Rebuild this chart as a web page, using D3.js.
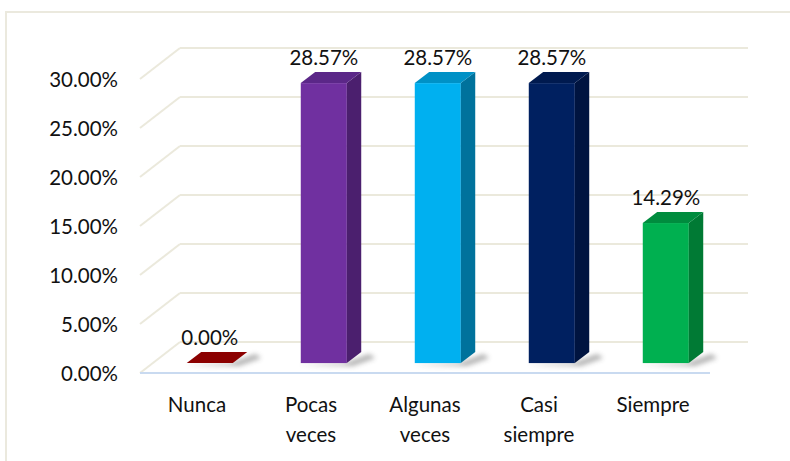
<!DOCTYPE html>
<html>
<head>
<meta charset="utf-8">
<script src="https://cdn.jsdelivr.net/npm/d3@7"></script>
<style>
  html, body { margin: 0; padding: 0; background: #ffffff; }
  svg { display: block; }
  text { font-family: Lato, "Open Sans", sans-serif; fill: #111; }
</style>
</head>
<body>
<svg id="chart" width="790" height="461"></svg>
<script>
// ---- data ----
const categories = ["Nunca", "Pocas veces", "Algunas veces", "Casi siempre", "Siempre"];
const categoryLines = [["Nunca"], ["Pocas", "veces"], ["Algunas", "veces"], ["Casi", "siempre"], ["Siempre"]];
const values = [0.0, 0.2857, 0.2857, 0.2857, 0.1429];
const valueLabels = ["0.00%", "28.57%", "28.57%", "28.57%", "14.29%"];
const tickValues = [0, 0.05, 0.10, 0.15, 0.20, 0.25, 0.30];
const frontColors = ["#a00000", "#7030a0", "#00b0f0", "#002060", "#00b050"];
const sideColors  = ["#6e0000", "#4b1f6e", "#00729c", "#001440", "#007a34"];
const topColors   = ["#8b0000", "#5b2788", "#0091c6", "#001a4f", "#008c3e"];

// ---- layout ----
const svg = d3.select("#chart");
const plotLeft = 140, plotRight = 710, y0 = 373, yTop = 79;
const depthX = 40, depthY = -31;           // full depth of the 3D box
const barF0 = 0.32, barF1 = 0.68;          // bar position inside the depth

const x = d3.scaleBand().domain(categories).range([plotLeft, plotRight])
  .paddingInner(0.596).paddingOuter(0.298);
const y = d3.scaleLinear().domain([0, 0.30]).range([y0, yTop]);

// outer frame
svg.append("path")
  .attr("d", "M6,461 L6,12 L790,12")
  .attr("fill", "none").attr("stroke", "#ebe9de").attr("stroke-width", 2);

// shadow filter
const defs = svg.append("defs");
defs.append("filter").attr("id", "blur").attr("x", "-50%").attr("y", "-50%")
  .attr("width", "200%").attr("height", "200%")
  .append("feGaussianBlur").attr("stdDeviation", 2.5);

// gridlines (left wall diagonals + back wall horizontals)
const grid = svg.append("g");
tickValues.forEach(t => {
  const yf = y(t);
  grid.append("line")
    .attr("x1", plotLeft).attr("y1", yf)
    .attr("x2", plotLeft + depthX).attr("y2", yf + depthY)
    .attr("stroke", "#ebe9dc").attr("stroke-width", 2);
  grid.append("line")
    .attr("x1", plotLeft + depthX).attr("y1", yf + depthY)
    .attr("x2", plotRight + depthX - 2).attr("y2", yf + depthY)
    .attr("stroke", "#ebe9dc").attr("stroke-width", 2);
});
// front floor line
svg.append("line")
  .attr("x1", plotLeft).attr("y1", y0).attr("x2", plotRight).attr("y2", y0)
  .attr("stroke", "#c9daf0").attr("stroke-width", 2);

// y axis
const yAxis = d3.axisLeft(y).tickValues(tickValues).tickFormat(d3.format(".2%"))
  .tickSize(0).tickPadding(0);
const ya = svg.append("g").attr("transform", "translate(118,0)").call(yAxis);
ya.select(".domain").remove();
ya.selectAll("text").style("font-family", "Lato, sans-serif")
  .style("font-size", "20.5px").attr("fill", "#111").attr("dy", "0.36em");

// bars
const bdx = depthX * (barF1 - barF0), bdy = depthY * (barF1 - barF0);
const bars = svg.append("g");
categories.forEach((c, i) => {
  const w = x.bandwidth();
  const fx = x(c) + depthX * barF0;
  const bottom = y(0) + depthY * barF0;
  const top = y(values[i]) + depthY * barF0;
  // shadow
  bars.append("polygon")
    .attr("points", [[fx + w - 2, bottom], [fx + w + bdx + 8, bottom + bdy + 2],
                     [fx + w + bdx + 14, bottom + bdy + 6], [fx + w + 6, bottom + 3],
                     [fx - 2, bottom + 2]].map(p => p.join(",")).join(" "))
    .attr("fill", "#555").attr("opacity", 0.45).attr("filter", "url(#blur)");
  if (values[i] > 0) {
    // front
    bars.append("rect").attr("x", fx).attr("y", top)
      .attr("width", w).attr("height", bottom - top).attr("fill", frontColors[i]);
    // side
    bars.append("polygon")
      .attr("points", [[fx + w, top], [fx + w + bdx, top + bdy], [fx + w + bdx, bottom + bdy], [fx + w, bottom]]
        .map(p => p.join(",")).join(" "))
      .attr("fill", sideColors[i]);
  }
  // top
  bars.append("polygon")
    .attr("points", [[fx, top], [fx + bdx, top + bdy], [fx + w + bdx, top + bdy], [fx + w, top]]
      .map(p => p.join(",")).join(" "))
    .attr("fill", topColors[i]);
  // value label
  bars.append("text")
    .attr("x", fx + w / 2).attr("y", top + bdy - 7)
    .attr("text-anchor", "middle").style("font-size", "20.5px")
    .text(valueLabels[i]);
});

// category labels
const xl = svg.append("g");
categories.forEach((c, i) => {
  const t = xl.append("text").attr("text-anchor", "middle")
    .attr("x", x(c) + x.bandwidth() / 2).attr("y", 412).style("font-size", "20.5px");
  categoryLines[i].forEach((ln, j) => {
    t.append("tspan").attr("x", x(c) + x.bandwidth() / 2).attr("dy", j === 0 ? 0 : 30).text(ln);
  });
});
</script>
</body>
</html>
